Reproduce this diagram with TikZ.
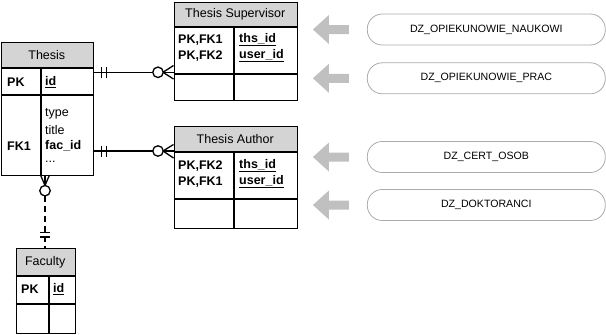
\documentclass[tikz,border=0pt]{standalone}
\usepackage{fontspec}
\setmainfont{Liberation Sans}
\usetikzlibrary{calc}
\definecolor{hdrgray}{HTML}{D4D4D4}
\definecolor{arrgray}{HTML}{C0C0C0}
\definecolor{pillgray}{HTML}{ABABAB}
\begin{document}
\begin{tikzpicture}[x=1pt,y=-1pt,
  tline/.style={line width=1.3pt, draw=black},
  tablebox/.style={draw=black, line width=1.3pt, inner sep=0pt, anchor=north west},
  conn/.style={line width=1.3pt, draw=black},
  ring/.style={circle, draw=black, fill=white, line width=1.3pt, minimum size=10.5pt, inner sep=0pt},
  txt/.style={inner sep=0pt, anchor=west, font=\fontsize{12.5}{14}\selectfont},
  btxt/.style={txt, font=\fontsize{12.5}{14}\selectfont\bfseries},
  htxt/.style={inner sep=0pt, font=\fontsize{12.5}{14}\selectfont},
  pill/.style={draw=pillgray, line width=0.8pt, rounded corners=15pt, minimum width=238pt, minimum height=31pt, inner sep=0pt, font=\fontsize{10.6}{12}\selectfont},
  blockarrow/.style={fill=arrgray}
]
\useasboundingbox (0,0) rectangle (606,335);

% ---------- Thesis ----------
\fill[hdrgray] (0.7,42) rectangle (93,68);
\node[tablebox, minimum width=92.3pt, minimum height=133pt] (thesis) at (0.7,42) {};
\draw[tline] (0.7,68) -- (93,68);
\draw[tline] (0.7,95) -- (93,95);
\draw[tline] (41,68) -- (41,175);
\node[htxt] (thesisT) at (46.8,55) {Thesis};
\node[btxt] (thpk) at (7,82) {PK};
\node[btxt] (thid) at (45,82) {\underline{id}};
\node[txt] (thtype) at (45,114) {type};
\node[txt] (thtitle) at (45,130) {title};
\node[btxt] (thfac) at (45,146) {fac\_id};
\node[txt] (thdots) at (45,162) {...};
\node[btxt] (thfk) at (7,146) {FK1};

% ---------- Thesis Supervisor ----------
\fill[hdrgray] (173.5,2) rectangle (297,27);
\node[tablebox, minimum width=123.5pt, minimum height=98pt] (sup) at (173.5,2) {};
\draw[tline] (173.5,27) -- (297,27);
\draw[tline] (173.5,74) -- (297,74);
\draw[tline] (234,27) -- (234,100);
\node[htxt] (supT) at (235.25,14.5) {Thesis Supervisor};
\node[btxt] (supk1) at (178,40) {PK,FK1};
\node[btxt] (supk2) at (178,56) {PK,FK2};
\node[btxt] (supf1) at (239,40) {\underline{ths\_id}};
\node[btxt] (supf2) at (239,56) {\underline{user\_id}};

% ---------- Thesis Author ----------
\fill[hdrgray] (173.5,126) rectangle (297,152);
\node[tablebox, minimum width=123.5pt, minimum height=102pt] (auth) at (173.5,126) {};
\draw[tline] (173.5,152) -- (297,152);
\draw[tline] (173.5,199) -- (297,199);
\draw[tline] (234,152) -- (234,228);
\node[htxt] (authT) at (235.25,139) {Thesis Author};
\node[btxt] (auk1) at (178,166) {PK,FK2};
\node[btxt] (auk2) at (178,182) {PK,FK1};
\node[btxt] (auf1) at (239,166) {\underline{ths\_id}};
\node[btxt] (auf2) at (239,182) {\underline{user\_id}};

% ---------- Faculty ----------
\fill[hdrgray] (15.5,248) rectangle (75,276);
\node[tablebox, minimum width=59.5pt, minimum height=85pt] (fac) at (15.5,248) {};
\draw[tline] (15.5,276) -- (75,276);
\draw[tline] (15.5,304) -- (75,304);
\draw[tline] (49,276) -- (49,333);
\node[htxt] (facT) at (45.25,262) {Faculty};
\node[btxt] (facpk) at (21,289) {PK};
\node[btxt] (facid) at (53,289) {\underline{id}};

% ---------- connectors ----------
\coordinate (c1) at (0,72.3);
\coordinate (c2) at (0,151);
\coordinate (c3) at (45,0);
\draw[conn] (thesis.east |- c1) -- (sup.west |- c1);
\draw[conn] (101.7,66.5) -- (101.7,78); \draw[conn] (106.7,66.5) -- (106.7,78);
\draw[conn] (163,72.3) -- (173.5,65.5); \draw[conn] (163,72.3) -- (173.5,79);
\node[ring] (r1) at (158,72.3) {};

\draw[conn] (thesis.east |- c2) -- (auth.west |- c2);
\draw[conn] (101.7,145.5) -- (101.7,157); \draw[conn] (106.7,145.5) -- (106.7,157);
\draw[conn] (163,151) -- (173.5,144.5); \draw[conn] (163,151) -- (173.5,158);
\node[ring] (r2) at (158,151) {};

\draw[conn] (thesis.south -| c3) -- (45,186);
\draw[conn, dash pattern=on 6pt off 4pt] (45,196) -- (fac.north -| c3);
\draw[conn] (40.5,175) -- (45,185.5) -- (49.5,175);
\draw[conn] (40,232.7) -- (50,232.7); \draw[conn] (40,237) -- (50,237);
\node[ring] (r3) at (45,190.7) {};

% ---------- right side sources ----------
\node[pill] (b1) at (486.3,29.5) {DZ\_OPIEKUNOWIE\_NAUKOWI};
\node[pill] (b2) at (486.3,78.3) {DZ\_OPIEKUNOWIE\_PRAC};
\node[pill] (b3) at (486.3,157) {DZ\_CERT\_OSOB};
\node[pill] (b4) at (486.3,205) {DZ\_DOKTORANCI};

\foreach \b in {b1,b2,b3,b4}{
  \fill[blockarrow] ($(\b.west)+(-54,0)$) -- ($(\b.west)+(-38,-14.5)$) -- ($(\b.west)+(-38,-4.5)$)
     -- ($(\b.west)+(-18,-4.5)$) -- ($(\b.west)+(-18,4.5)$) -- ($(\b.west)+(-38,4.5)$)
     -- ($(\b.west)+(-38,14.5)$) -- cycle;
}
\end{tikzpicture}
\end{document}
